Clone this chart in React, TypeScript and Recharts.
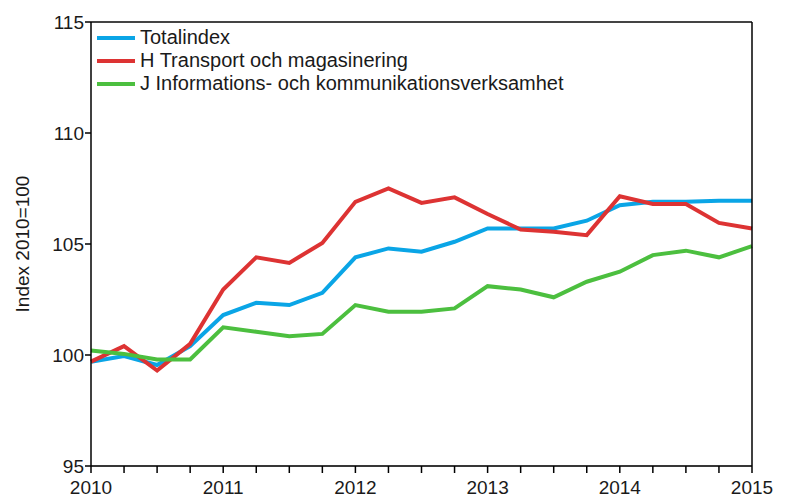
import { CartesianGrid, Line, LineChart, ReferenceLine, XAxis, YAxis } from "recharts";

const periods = [
  "2010Q1", "2010Q2", "2010Q3", "2010Q4",
  "2011Q1", "2011Q2", "2011Q3", "2011Q4",
  "2012Q1", "2012Q2", "2012Q3", "2012Q4",
  "2013Q1", "2013Q2", "2013Q3", "2013Q4",
  "2014Q1", "2014Q2", "2014Q3", "2014Q4",
  "2015Q1",
];

const totalindex = [
  99.7, 99.95, 99.55, 100.4, 101.8, 102.35, 102.25, 102.8, 104.4, 104.8, 104.65,
  105.1, 105.7, 105.7, 105.7, 106.05, 106.75, 106.9, 106.9, 106.95, 106.95,
];

const transport = [
  99.7, 100.4, 99.3, 100.5, 102.95, 104.4, 104.15, 105.05, 106.9, 107.5, 106.85,
  107.1, 106.35, 105.65, 105.55, 105.4, 107.15, 106.8, 106.8, 105.95, 105.7,
];

const information = [
  100.2, 100.05, 99.8, 99.8, 101.25, 101.05, 100.85, 100.95, 102.25, 101.95, 101.95,
  102.1, 103.1, 102.95, 102.6, 103.3, 103.75, 104.5, 104.7, 104.4, 104.9,
];

const yTicks = [95, 100, 105, 110, 115];

const seriesInfo = [
  { key: "total", name: "Totalindex", color: "#0aa5e6" },
  { key: "transport", name: "H Transport och magasinering", color: "#dd3333" },
  { key: "info", name: "J Informations- och kommunikationsverksamhet", color: "#4cbf3f" },
];

const data = periods.map((p, i) => ({
  period: p,
  total: totalindex[i],
  transport: transport[i],
  info: information[i],
}));

const FONT = "'Liberation Sans', Arial, sans-serif";

// legend sits inside the plot, drawn as an overlay so it doesn't shrink the chart
function ChartLegend() {
  return (
    <div
      style={{
        position: "absolute",
        top: 26,
        left: 97,
        fontFamily: FONT,
        fontSize: 20,
        color: "#1a1a1a",
        lineHeight: "23px",
      }}
    >
      {seriesInfo.map((s) => (
        <div key={s.key} style={{ display: "flex", alignItems: "center", height: 23 }}>
          <span
            style={{ display: "inline-block", width: 38, height: 4, background: s.color, marginRight: 5 }}
          />
          <span>{s.name}</span>
        </div>
      ))}
    </div>
  );
}

export default function App() {
  const tickStyle = { fill: "#1a1a1a", fontSize: 19, fontFamily: FONT };
  return (
    <div style={{ position: "absolute", left: 0, top: 0, width: 795, height: 500, background: "#fff" }}>
      <LineChart
        width={795}
        height={500}
        data={data}
        margin={{ top: 22, right: 3, bottom: 4, left: 16 }}
      >
        <CartesianGrid stroke="#c8c8c8" strokeWidth={1.5} vertical={false} />
        <ReferenceLine yAxisId="left" y={115} stroke="#444" strokeWidth={2} />
        <XAxis
          dataKey="period"
          interval={0}
          height={30}
          stroke="#000"
          strokeWidth={1.5}
          tickSize={7}
          tickMargin={8}
          tick={tickStyle}
          tickFormatter={(v: string) => (v.endsWith("Q1") ? v.slice(0, 4) : "")}
        />
        <YAxis
          yAxisId="left"
          domain={[95, 115]}
          ticks={yTicks}
          width={75}
          stroke="#000"
          strokeWidth={1.5}
          tickSize={6}
          tickMargin={1}
          tick={tickStyle}
          label={{
            value: "Index 2010=100",
            angle: -90,
            position: "insideLeft",
            offset: 6,
            style: { textAnchor: "middle", fill: "#1a1a1a", fontSize: 19, fontFamily: FONT },
          }}
        />
        <YAxis
          yAxisId="right"
          orientation="right"
          domain={[95, 115]}
          ticks={yTicks}
          width={40}
          stroke="#000"
          strokeWidth={1.5}
          tickSize={6}
          tickMargin={1}
          tick={tickStyle}
        />
        {seriesInfo.map((s) => (
          <Line
            key={s.key}
            yAxisId="left"
            dataKey={s.key}
            name={s.name}
            stroke={s.color}
            strokeWidth={4}
            dot={false}
            type="linear"
            isAnimationActive={false}
          />
        ))}
      </LineChart>
      <ChartLegend />
    </div>
  );
}
